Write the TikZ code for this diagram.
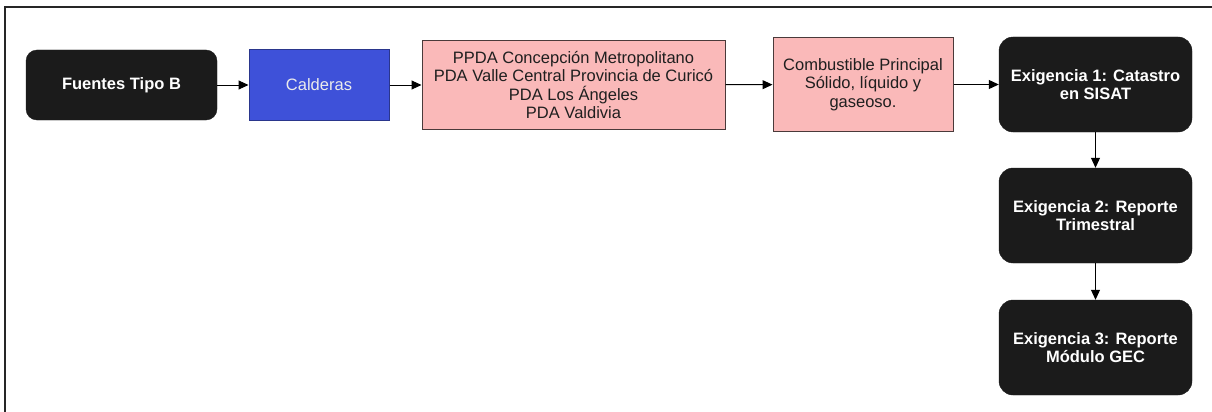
\documentclass[tikz,border=0pt]{standalone}
\usepackage{fontspec}
\setmainfont{Liberation Sans}
\usetikzlibrary{arrows.meta}
\definecolor{boxblack}{HTML}{1B1B1B}
\definecolor{boxblue}{HTML}{3E51D9}
\definecolor{blueedge}{HTML}{2A368C}
\definecolor{boxpink}{HTML}{FAB9B9}
\definecolor{pinkedge}{HTML}{4A3A3A}
\tikzset{
  darkbox/.style={draw=boxblack, fill=boxblack, rounded corners=11pt, text=white,
    font=\fontsize{16.5}{17.5}\selectfont\bfseries, align=center, inner sep=0pt},
  bluebox/.style={draw=blueedge, line width=1pt, fill=boxblue, text=white!92!black,
    font=\fontsize{16.5}{18.5}\selectfont, align=center, inner sep=0pt},
  pinkbox/.style={draw=pinkedge, line width=1pt, fill=boxpink, text=black!88,
    font=\fontsize{16.5}{18.5}\selectfont, align=center, inner sep=0pt},
  conn/.style={draw=black, line width=1pt, -{Triangle[length=10pt,width=9pt]}},
}
\begin{document}
\begin{tikzpicture}[x=1pt,y=-1pt]
\useasboundingbox (0,0) rectangle (1212,412);
\fill[white] (0,0) rectangle (1212,412);
% frame (only top and left edges visible)
\coordinate (ftl) at (4.5,7);
\coordinate (ftr) at (1212,7);
\coordinate (fbl) at (4.5,412);
\draw[line width=2pt, black!85] (fbl) -- (ftl) -- (ftr);

\node[darkbox, minimum width=191pt, minimum height=70pt] (fuentes) at (121.5,85) {Fuentes Tipo B};
\node[bluebox, minimum width=140pt, minimum height=70pt] (calderas) at (319,85) {Calderas};
\node[pinkbox, minimum width=303pt, minimum height=88pt] (ppda) at (573.5,85)
  {PPDA Concepción Metropolitano\\PDA Valle Central Provincia de Curicó\\PDA Los Ángeles\\PDA Valdivia};
\node[pinkbox, minimum width=180pt, minimum height=93pt] (comb) at (863,84.5)
  {Combustible Principal\\Sólido, líquido y\\gaseoso.};
\node[darkbox, rounded corners=14pt, minimum width=193pt, minimum height=95pt] (ex1) at (1095.5,84.5)
  {Exigencia 1: Catastro\\en SISAT};
\node[darkbox, rounded corners=14pt, minimum width=193pt, minimum height=95pt] (ex2) at (1095.5,215.5)
  {Exigencia 2: Reporte\\Trimestral};
\node[darkbox, rounded corners=14pt, minimum width=193pt, minimum height=95pt] (ex3) at (1095.5,347.5)
  {Exigencia 3: Reporte\\Módulo GEC};

\draw[conn] (fuentes) -- (calderas);
\draw[conn] (calderas) -- (ppda);
\draw[conn] (ppda) -- (comb);
\draw[conn] (comb) -- (ex1);
\draw[conn] (ex1) -- (ex2);
\draw[conn] (ex2) -- (ex3);
\end{tikzpicture}
\end{document}
